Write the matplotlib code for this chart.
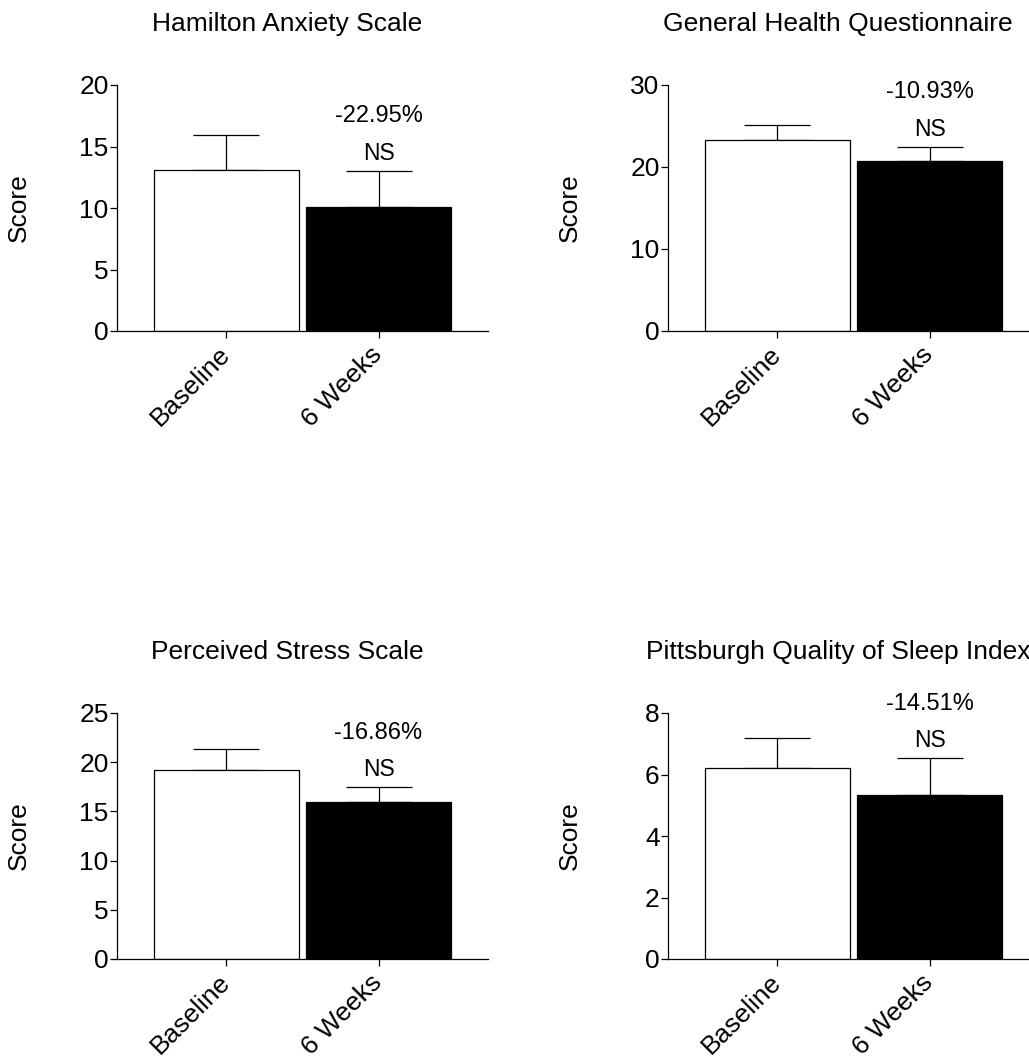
import matplotlib
matplotlib.use('Agg')
import matplotlib.pyplot as plt
import numpy as np

plt.rcParams['font.family'] = ['Liberation Sans', 'DejaVu Sans']

# Данные
groups = ['Baseline', '6 Weeks']
titles = ['Hamilton Anxiety Scale', 'General Health Questionnaire',
          'Perceived Stress Scale', 'Pittsburgh Quality of Sleep Index']
means = [[13.1, 10.09], [23.25, 20.71], [19.2, 15.96], [6.22, 5.32]]
errors = [[2.85, 2.95], [1.88, 1.78], [2.1, 1.55], [0.96, 1.21]]
changes = ['-22.95%', '-10.93%', '-16.86%', '-14.51%']
sig = ['NS', 'NS', 'NS', 'NS']
ymax = [20, 30, 25, 8]
ystep = [5, 10, 5, 2]

W, H = 1029, 1061
fig = plt.figure(figsize=(W / 100, H / 100), dpi=100)

# положение осей в пикселях: (левый край, низ)
origins = [(117, 331), (668, 331), (117, 959), (668, 959)]
ax_w, ax_h = 371, 246

for i in range(4):
    x0, y0 = origins[i]
    ax = fig.add_axes([x0 / W, 1 - y0 / H, ax_w / W, ax_h / H])
    x = np.arange(len(groups))
    ax.bar(x, means[i], width=0.955, color=['white', 'black'],
           edgecolor='black', linewidth=0.9, zorder=2)
    ax.errorbar(x, means[i], yerr=[np.zeros(2), errors[i]], fmt='none',
                ecolor='black', elinewidth=0.9, capsize=24, capthick=0.9, zorder=1)

    top = means[i][1] + errors[i][1]
    ax.annotate(sig[i], (x[1], top), xytext=(0, 12.5), textcoords='offset points',
                ha='center', va='center', fontsize=16.5)
    ax.annotate(changes[i], (x[1], top), xytext=(0, 39), textcoords='offset points',
                ha='center', va='center', fontsize=17)

    ax.set_xlim(-0.72, 1.72)
    ax.set_ylim(0, ymax[i])
    ax.set_yticks(np.arange(0, ymax[i] + 1, ystep[i]))
    ax.set_xticks(x)
    ax.set_xticklabels(groups, rotation=45, ha='right', va='center',
                       rotation_mode='anchor', fontsize=19)
    ax.tick_params(axis='y', labelsize=19, length=5, width=0.9, pad=1)
    ax.tick_params(axis='x', length=5, width=0.9, pad=9)
    ax.spines['top'].set_visible(False)
    ax.spines['right'].set_visible(False)
    ax.spines['left'].set_linewidth(0.9)
    ax.spines['bottom'].set_linewidth(0.9)
    ax.patch.set_alpha(0)

    ax.text(0.458, 1.22, titles[i], transform=ax.transAxes,
            ha='center', va='baseline', fontsize=19)
    ax.text(-0.264, 0.5, 'Score', transform=ax.transAxes, rotation=90,
            ha='center', va='center', fontsize=19)

plt.savefig('out.png', dpi=100, facecolor='white')
